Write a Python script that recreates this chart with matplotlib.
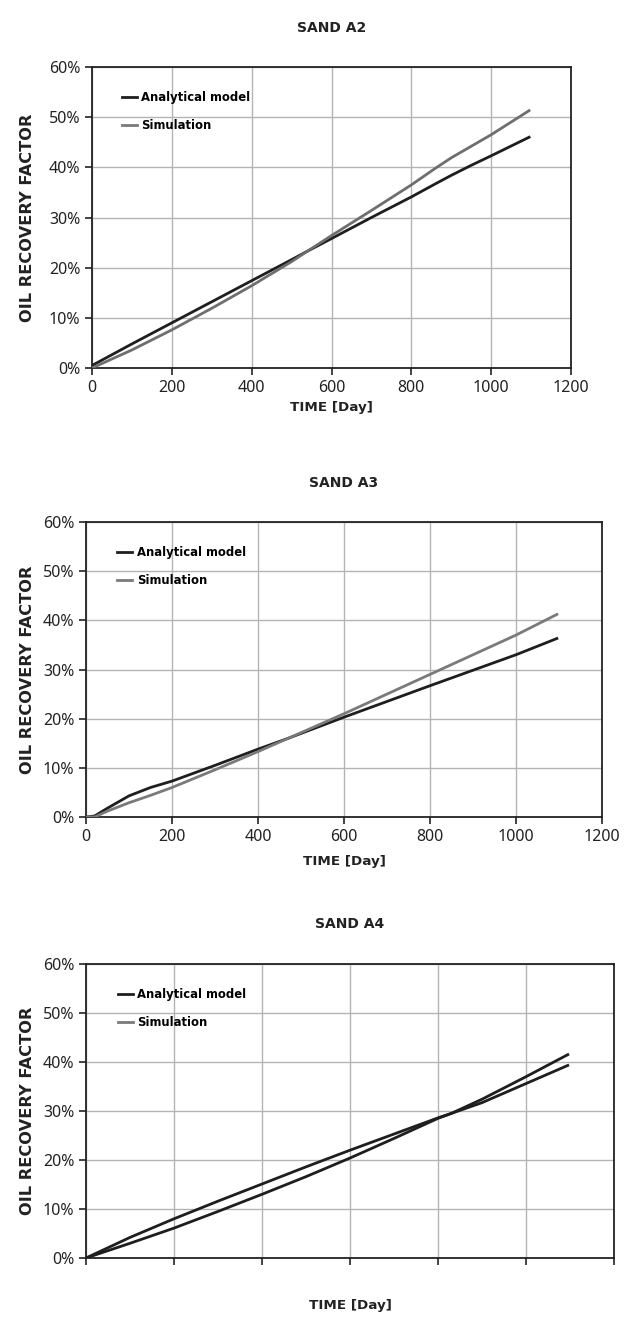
import matplotlib.pyplot as plt
from matplotlib.ticker import FuncFormatter
from matplotlib.lines import Line2D

# Dados (dias, fator de recuperação em %)
dias_a2 = [0, 100, 200, 300, 400, 500, 540, 600, 700, 800, 860, 900, 950, 1000, 1095]
analitico_a2 = [0.5, 4.8, 9.0, 13.2, 17.4, 21.6, 23.3, 25.8, 30.0, 34.1, 36.7, 38.4, 40.4, 42.3, 46.0]
simulacao_a2 = [0.0, 3.6, 7.6, 11.9, 16.4, 21.2, 23.3, 26.4, 31.4, 36.5, 39.8, 41.9, 44.2, 46.5, 51.3]

dias_a3 = [0, 20, 50, 100, 150, 200, 300, 400, 470, 600, 800, 1000, 1095]
analitico_a3 = [0.0, 0.2, 1.8, 4.3, 6.0, 7.3, 10.5, 13.8, 16.0, 20.3, 26.7, 33.0, 36.3]
simulacao_a3 = [0.0, 0.0, 1.2, 2.9, 4.4, 6.0, 9.6, 13.3, 16.0, 21.0, 29.0, 37.0, 41.2]

dias_a4 = [0, 100, 200, 300, 400, 500, 600, 700, 800, 830, 900, 1000, 1095]
analitico_a4 = [0.0, 4.2, 8.0, 11.6, 15.1, 18.6, 22.0, 25.3, 28.6, 29.5, 31.7, 35.6, 39.3]
simulacao_a4 = [0.0, 3.0, 6.1, 9.5, 13.0, 16.6, 20.4, 24.4, 28.5, 29.5, 32.4, 37.0, 41.5]

xticks = [0, 200, 400, 600, 800, 1000, 1200]
yticks = [0, 10, 20, 30, 40, 50, 60]

W, H = 626, 1318
fig = plt.figure(figsize=(W / 100, H / 100), dpi=100)

paineis = [
    ('SAND A2', dias_a2, analitico_a2, simulacao_a2, (92, 571, 67, 368), '#6e6e6e', True, 28, 408),
    ('SAND A3', dias_a3, analitico_a3, simulacao_a3, (86, 602, 522, 817), '#7a7a7a', True, 483, 862),
    ('SAND A4', dias_a4, analitico_a4, simulacao_a4, (86, 614, 964, 1258), '#1e1e1e', False, 924, 1305),
]

for titulo, dias, ana, sim, (l, r, t, b), cor_sim, rotulos_x, y_tit, y_xlab in paineis:
    ax = fig.add_axes([l / W, 1 - b / H, (r - l) / W, (b - t) / H])
    ax.plot(dias, ana, color='#1e1e1e', lw=2.0, zorder=3)
    ax.plot(dias, sim, color=cor_sim, lw=2.0, zorder=3)
    ax.set_xlim(0, 1200)
    ax.set_ylim(0, 60)
    ax.set_xticks(xticks)
    ax.set_yticks(yticks)
    ax.yaxis.set_major_formatter(FuncFormatter(lambda v, p: '%d%%' % v))
    if not rotulos_x:
        ax.set_xticklabels([])
    ax.grid(True, color='#b4b4b4', lw=1.0, zorder=0)
    ax.set_axisbelow(True)
    for s in ax.spines.values():
        s.set_color('#222222')
        s.set_linewidth(1.3)
    ax.tick_params(direction='out', length=5, width=1.2, color='#222222',
                   labelsize=11.5, labelcolor='#222222')
    for lab in ax.get_xticklabels() + ax.get_yticklabels():
        lab.set_family('Noto Sans')
    # legenda: a simulação aparece sempre em cinza
    handles = [Line2D([], [], color='#1e1e1e', lw=2.0),
               Line2D([], [], color='#7a7a7a', lw=2.0)]
    ax.legend(handles, ['Analytical model', 'Simulation'], loc='upper left',
              bbox_to_anchor=(0.04, 0.955), frameon=False,
              handlelength=1.3, handletextpad=0.4, labelspacing=1.3,
              prop={'weight': 'bold', 'size': 8.4})
    cx = (l + r) / 2
    fig.text(cx / W, 1 - y_tit / H, titulo, ha='center', va='center',
             fontsize=10, fontweight='bold', color='#222222')
    fig.text(cx / W, 1 - y_xlab / H, 'TIME [Day]', ha='center', va='center',
             fontsize=9.7, fontweight='bold', color='#222222')
    fig.text(28 / W, 1 - (t + b) / 2 / H, 'OIL RECOVERY FACTOR', ha='center', va='center',
             rotation=90, fontsize=11.7, fontweight='bold', color='#222222')

fig.savefig('out.png', dpi=100)
